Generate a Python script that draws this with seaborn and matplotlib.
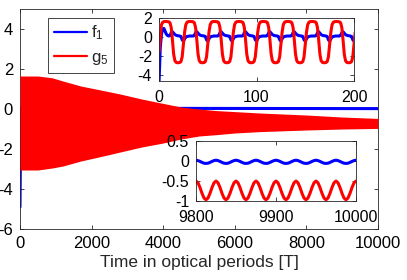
"""Decay of f1 and g5 over optical periods, with zoomed insets at start and end."""
import matplotlib
matplotlib.use('Agg')
import matplotlib.pyplot as plt
from matplotlib.lines import Line2D
import seaborn as sns

# ======================================================================================================================
# Data
# ======================================================================================================================
# envelope of the fast g5 oscillation in the main panel
env_t = [0, 500, 900, 1200, 1700, 2200, 2800, 3400, 4000, 4500, 5000, 5500, 6000, 6700, 8000, 9000, 10000]
g5_upper = [1.65, 1.65, 1.56, 1.4, 1.15, 0.97, 0.75, 0.5, 0.28, 0.1, 0.0, -0.08, -0.13, -0.2, -0.3, -0.4, -0.47]
g5_lower = [-3.05, -3.05, -2.95, -2.85, -2.6, -2.4, -2.15, -1.9, -1.7, -1.5, -1.35, -1.28, -1.2, -1.13, -1.05,
            -1.0, -0.97]
# f1 in the main panel
f1_t = [0, 25, 5000, 10000]
f1_main = [-4.9, 0.05, 0.03, 0.02]

# start inset: one optical cycle of 25 T, sampled every 1.25 T
PERIOD = 25
N_CYCLES = 8
cycle_phase = [0, 1.25, 2.5, 3.75, 5, 6.25, 7.5, 8.75, 10, 11.25, 12.5, 13.75, 15, 16.25, 17.5, 18.75, 20, 21.25,
               22.5, 23.75]
g5_cycle = [1.3, 1.55, 1.62, 1.63, 1.63, 1.62, 1.6, 1.5, 1.0, -0.3, -1.8, -2.5, -2.68, -2.72, -2.72, -2.7, -2.6,
            -2.1, -0.8, 0.5]
f1_cycle = [0.0, 0.05, 0.08, 0.1, 0.1, 0.1, 0.1, 0.15, 0.45, 0.55, 0.4, 0.25, 0.18, 0.14, 0.12, 0.1, 0.05, -0.3,
            -0.45, -0.2]
f1_first_cycle = [0.3, 0.8, 0.9, 0.6, 0.3, 0.15, 0.1, 0.15, 0.45, 0.55, 0.4, 0.25, 0.18, 0.14, 0.12, 0.1, 0.05,
                  -0.3, -0.45, -0.2]
head_t = [0, 1.25]
g5_head = [-1.6, -0.2]
f1_head = [-4.9, -1.2]
CYCLE_T0 = 2.5

# end inset: one cycle of 25 T, sampled every 2.5 T, starting at 9800
end_phase = [0, 2.5, 5, 7.5, 10, 12.5, 15, 17.5, 20, 22.5]
g5_end_cycle = [-0.5, -0.545, -0.662, -0.808, -0.925, -0.97, -0.925, -0.808, -0.662, -0.545]
f1_end_cycle = [0.02, 0.01, -0.01, -0.035, -0.055, -0.06, -0.055, -0.035, -0.01, 0.01]
END_T0 = 9800

# ======================================================================================================================
# Assemble the inset series
# ======================================================================================================================
start_t = head_t + [CYCLE_T0 + k * PERIOD + p for k in range(N_CYCLES) for p in cycle_phase]
start_g5 = g5_head + g5_cycle * N_CYCLES
start_f1 = f1_head + f1_first_cycle + f1_cycle * (N_CYCLES - 1)

end_t = [END_T0 + k * PERIOD + p for k in range(N_CYCLES) for p in end_phase] + [END_T0 + N_CYCLES * PERIOD]
end_g5 = g5_end_cycle * N_CYCLES + g5_end_cycle[:1]
end_f1 = f1_end_cycle * N_CYCLES + f1_end_cycle[:1]

# ======================================================================================================================
# Plot
# ======================================================================================================================
sns.set_style('ticks')
plt.rcParams['font.family'] = ['Liberation Sans', 'DejaVu Sans']
plt.rcParams['mathtext.fontset'] = 'custom'
plt.rcParams['mathtext.rm'] = 'Liberation Sans'
plt.rcParams['mathtext.it'] = 'Liberation Sans'
plt.rcParams['axes.unicode_minus'] = False

INK = '#262626'
BLUE = '#0000ff'
RED = '#ff0000'

fig = plt.figure(figsize=(4.07, 2.80), dpi=100)


def style_axes(ax, size, xpad):
    for side in ax.spines.values():
        side.set_color(INK)
        side.set_linewidth(0.6)
    ax.tick_params(direction='in', length=3, width=0.6, colors=INK, labelcolor='black', labelsize=size,
                   top=True, right=True)
    ax.tick_params(axis='x', pad=xpad)
    ax.tick_params(axis='y', pad=5)
    ax.set_ylabel('')


ax = fig.add_axes([0.0491, 0.1821, 0.8796, 0.7857])
sns.lineplot(x=f1_t, y=f1_main, color=BLUE, lw=2.2, ax=ax, zorder=2)
ax.fill_between(env_t, g5_lower, g5_upper, color=RED, lw=0, zorder=3)
ax.set_xlim(0, 10000)
ax.set_ylim(-6, 5)
ax.set_xticks([0, 2000, 4000, 6000, 8000, 10000])
ax.set_yticks([-6, -4, -2, 0, 2, 4])
ax.set_xlabel('Time in optical periods [T]', fontsize=12.5, labelpad=3)
style_axes(ax, 12, 5)
handles = [Line2D([], [], color=BLUE, lw=1.6), Line2D([], [], color=RED, lw=1.6)]
leg = ax.legend(handles, ['f$_1$', 'g$_5$'], loc='upper left', bbox_to_anchor=(0.078, 0.96), fontsize=12,
                frameon=True, fancybox=False, framealpha=1, edgecolor=INK, borderaxespad=0, borderpad=0.35,
                labelspacing=0.45, handlelength=2.0, handletextpad=0.25)
leg.get_frame().set_linewidth(0.6)

ax1 = fig.add_axes([0.3907, 0.7107, 0.4791, 0.225])
sns.lineplot(x=start_t, y=start_f1, color=BLUE, lw=2.2, ax=ax1)
sns.lineplot(x=start_t, y=start_g5, color=RED, lw=2.2, ax=ax1)
ax1.set_xlim(0, 200)
ax1.set_ylim(-4.65, 2)
ax1.set_xticks([0, 100, 200])
ax1.set_yticks([-4, -2, 0, 2])
style_axes(ax1, 11.5, 6.5)

ax2 = fig.add_axes([0.4816, 0.2821, 0.3931, 0.2143])
sns.lineplot(x=end_t, y=end_f1, color=BLUE, lw=2.2, ax=ax2)
sns.lineplot(x=end_t, y=end_g5, color=RED, lw=2.2, ax=ax2)
ax2.set_xlim(9800, 10000)
ax2.set_ylim(-1, 0.5)
ax2.set_xticks([9800, 9900, 10000])
ax2.set_yticks([-1, -0.5, 0, 0.5])
ax2.set_yticklabels(['-1', '-0.5', '0', '0.5'])
style_axes(ax2, 11.5, 6.5)

fig.savefig('out.png', dpi=100)
